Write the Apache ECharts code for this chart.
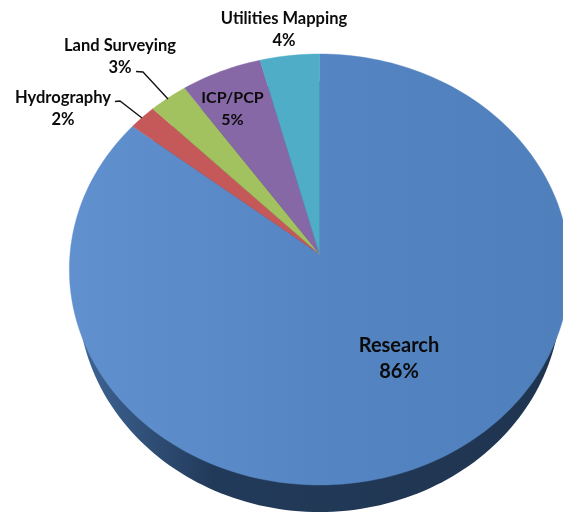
<!DOCTYPE html>
<html>
<head>
<meta charset="utf-8">
<style>
  html, body { margin: 0; padding: 0; background: #fff; }
  #chart { width: 563px; height: 513px; }
</style>
<script src="https://cdn.jsdelivr.net/npm/echarts@6/dist/echarts.min.js"></script>
</head>
<body>
<div id="chart"></div>
<script>
// clockwise from 12 o'clock
const categories = ['Research', 'Hydrography', 'Land Surveying', 'ICP/PCP', 'Utilities Mapping']
const shares = [85.7, 1.9, 2.7, 5.6, 4.1]
const shareLabels = ['86%', '2%', '3%', '5%', '4%']

const colors = [null, '#c5595a', '#a2c15f', '#8768a6', '#4fadc8']
const researchFill = new echarts.graphic.LinearGradient(69, 0, 569, 0, [
  { offset: 0, color: '#6090ce' },
  { offset: 0.6, color: '#5383c0' },
  { offset: 1, color: '#4f80bc' },
], true)
const wallFill = new echarts.graphic.LinearGradient(75, 0, 565, 0, [
  { offset: 0, color: '#3f6797' },
  { offset: 0.28, color: '#223a5a' },
  { offset: 1, color: '#1f344f' },
], true)

// tilted disc: circle seen in perspective, apex is off the ellipse centre
const apex = { x: 319.5, y: 254 }
const R = 249.5
const B = 214.4
const K = 0.0719

function project(deg, scale = 1, dy = 0) {
  const a = deg * Math.PI / 180
  const u = Math.sin(a)
  const v = -Math.cos(a)
  const d = 1 - K * v
  return [apex.x + scale * R * u / d, apex.y + B * v / d + dy]
}

function arcPoints(from, to, scale, dy) {
  const pts = []
  const steps = Math.max(2, Math.ceil((to - from) / 1.5))
  for (let i = 0; i <= steps; i++) pts.push(project(from + (to - from) * i / steps, scale, dy))
  return pts
}

const total = shares.reduce((a, b) => a + b, 0)
const starts = []
shares.reduce((acc, s, i) => { starts[i] = acc; return acc + s }, 0)

function renderWall() {
  return {
    type: 'polygon',
    shape: { points: arcPoints(0, 360, 0.965, 27) },
    style: { fill: wallFill },
    silent: true,
  }
}

function renderSlice(params, api) {
  const i = params.dataIndex
  const from = starts[i] / total * 360
  const to = from + api.value(0) / total * 360
  const fill = i === 0 ? researchFill : colors[i]
  return {
    type: 'polygon',
    shape: { points: [[apex.x, apex.y], ...arcPoints(from, to, 1, 0)] },
    style: { fill, stroke: fill, lineWidth: 0.4 },
    silent: true,
  }
}

function label(i, x, y, size, gap = 22) {
  const font = { fontFamily: 'Lato', fontWeight: 'bold', fontSize: size, fill: '#0b0b0b', align: 'center', verticalAlign: 'middle' }
  return [
    { type: 'text', z: 10, x, y, style: { ...font, text: categories[i] } },
    { type: 'text', z: 10, x, y: y + gap, style: { ...font, text: shareLabels[i] } },
  ]
}

function leader(points) {
  return { type: 'polyline', z: 10, shape: { points }, style: { stroke: '#111', lineWidth: 1.3, fill: null } }
}

const chart = echarts.init(document.getElementById('chart'), null, { renderer: 'canvas' })
chart.setOption({
  animation: false,
  backgroundColor: '#fff',
  series: [
    { type: 'custom', coordinateSystem: 'none', data: [total], renderItem: renderWall, z: 1 },
    { type: 'custom', coordinateSystem: 'none', data: shares, renderItem: renderSlice, z: 2 },
  ],
  graphic: {
    elements: [
      leader([[115, 101.5], [120, 101], [142, 118]]),
      leader([[136, 71.5], [143, 72], [168, 99]]),
      ...label(0, 399, 346, 20, 26),
      ...label(1, 63, 98, 16.5),
      ...label(2, 120, 46, 16.5),
      ...label(3, 232.5, 98, 16),
      ...label(4, 284, 19, 16.5),
    ],
  },
})
</script>
</body>
</html>
